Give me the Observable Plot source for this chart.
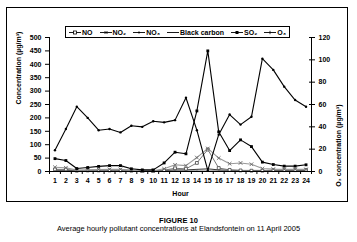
<!DOCTYPE html>
<html>
<head>
<meta charset="utf-8">
<script src="https://cdn.jsdelivr.net/npm/d3@7"></script>
<script src="https://cdn.jsdelivr.net/npm/@observablehq/plot@0.6"></script>
<style>
  body { margin: 0; background: #fff; font-family: 'Liberation Sans', Arial, sans-serif; }
  #wrap { position: relative; width: 357px; height: 242px; }
  #border { position: absolute; left: 6px; top: 7px; width: 342px; height: 195px; border: 1px solid #000; box-sizing: border-box; pointer-events: none; }
  #legend { position: absolute; left: 65px; top: 26px; width: 225px; height: 12px; border: 1px solid #000; box-sizing: border-box; background: #fff;
            display: flex; align-items: center; justify-content: space-between; padding: 0 3px; font-size: 7px; font-weight: bold; }
  #legend .item { display: flex; align-items: center; white-space: nowrap; }
  #legend svg { margin-right: 1px; }
  .cap { position: absolute; left: 0; width: 357px; text-align: center; font-size: 7.5px; line-height: 8px; }
</style>
</head>
<body>
<div id="wrap">
  <div id="chart"></div>
  <div id="border"></div>
  <div id="legend"></div>
  <div class="cap" style="top:217px;font-weight:bold">FIGURE 10</div>
  <div class="cap" style="top:225px">Average hourly pollutant concentrations at Elandsfontein on 11 April 2005</div>
</div>
<script>
const hours = [1,2,3,4,5,6,7,8,9,10,11,12,13,14,15,16,17,18,19,20,21,22,23,24];
const no   = [8,8,3,4,4,4,4,3,2,2,5,12,10,32,82,13,6,4,3,3,5,5,5,6];
const no2  = [16,14,5,6,7,8,8,5,2,3,10,25,22,52,86,50,29,32,27,11,9,8,8,8];
const no3  = [3,3,2,2,2,2,2,2,1,1,2,3,3,4,5,3,2,2,2,2,2,2,2,2];
const bc   = [5,5,3,4,5,5,5,4,3,3,4,6,6,8,10,6,5,4,4,4,4,4,4,4];
const so2  = [48,41,11,15,19,22,22,10,6,6,32,72,66,226,450,148,78,118,93,35,26,20,20,25];
const o3   = [19,38,58,48,37,38,35,41,40,45,44,46,66,37,1,33,51,42,49,101,91,76,64,58];
const leftTicks = [0,50,100,150,200,250,300,350,400,450,500];
const rightTicks = [0,20,40,60,80,100,120];
const bounds = [0.5,1.5,2.5,3.5,4.5,5.5,6.5,7.5,8.5,9.5,10.5,11.5,12.5,13.5,14.5,15.5,16.5,17.5,18.5,19.5,20.5,21.5,22.5,23.5,24.5];
const seriesNames = ["NO","NO₂","NO₃","Black carbon","SO₂","O₃"];

const k = 500 / 120;
const rows = hours.map((h, i) => ({hour: h, NO: no[i], NO2: no2[i], NO3: no3[i], BC: bc[i], SO2: so2[i], O3: o3[i] * k}));

const plot = Plot.plot({
  width: 357, height: 205,
  marginLeft: 49, marginRight: 46, marginTop: 37, marginBottom: 34,
  x: {domain: [0.5, 24.5]},
  y: {domain: [0, 500]},
  style: {fontFamily: "'Liberation Sans', Arial, sans-serif", fontSize: "7px", fontWeight: "bold", background: "transparent", color: "#000"},
  marks: [
    Plot.line(rows, {x: "hour", y: "NO3", stroke: "#aaa", strokeWidth: 1}),
    Plot.dot(rows, {x: "hour", y: "NO3", r: 0.9, fill: "#999", stroke: null}),
    Plot.line(rows, {x: "hour", y: "BC", stroke: "#222", strokeWidth: 0.9}),
    Plot.line(rows, {x: "hour", y: "NO", stroke: "#777", strokeWidth: 1}),
    Plot.dot(rows, {x: "hour", y: "NO", symbol: "square", r: 1.6, fill: "#fff", stroke: "#444", strokeWidth: 0.8}),
    Plot.line(rows, {x: "hour", y: "NO2", stroke: "#999", strokeWidth: 1.1}),
    Plot.dot(rows, {x: "hour", y: "NO2", symbol: "times", r: 1.8, stroke: "#666", strokeWidth: 0.9}),
    Plot.line(rows, {x: "hour", y: "SO2", stroke: "#000", strokeWidth: 1.1}),
    Plot.dot(rows, {x: "hour", y: "SO2", symbol: "square", r: 1.6, fill: "#000", stroke: null}),
    Plot.line(rows, {x: "hour", y: "O3", stroke: "#000", strokeWidth: 1.1}),
    Plot.dot(rows, {x: "hour", y: "O3", r: 1.2, fill: "#000", stroke: null}),
    Plot.ruleX([0.5, 24.5], {stroke: "#000", strokeWidth: 1}),
    Plot.ruleY([0], {stroke: "#000", strokeWidth: 1}),
    Plot.axisY(leftTicks, {anchor: "left", tickSize: 4, tickPadding: 4, label: null}),
    Plot.axisY(rightTicks.map(v => v * k), {anchor: "right", tickSize: 3, tickPadding: 4, label: null, tickFormat: d => Math.round(d / k)}),
    Plot.axisY(rightTicks.map(v => v * k), {anchor: "right", tickSize: -3, label: null, tickFormat: () => ""}),
    Plot.axisX(bounds, {anchor: "bottom", tickSize: 3, label: null, tickFormat: () => ""}),
    Plot.axisX(hours, {anchor: "bottom", tickSize: 0, tickPadding: 7, label: null}),
    Plot.text(["Concentration (µg/m³)"], {frameAnchor: "left", rotate: -90, dx: -31, text: d => d}),
    Plot.text(["O₃ concentration (µg/m³)"], {frameAnchor: "right", rotate: -90, dx: 27, text: d => d}),
    Plot.text(["Hour"], {frameAnchor: "bottom", dy: 24, text: d => d})
  ]
});
document.getElementById("chart").appendChild(plot);

// legend
const swatches = [
  {line: "#000", marker: "osquare"},
  {line: "#000", marker: "times"},
  {line: "#000", marker: "dot"},
  {line: "#000", marker: "none"},
  {line: "#000", marker: "square"},
  {line: "#000", marker: "plus"}
];
const legend = document.getElementById("legend");
seriesNames.forEach((name, i) => {
  const s = swatches[i];
  const item = document.createElement("span");
  item.className = "item";
  let m = "";
  if (s.marker === "osquare") m = '<rect x="4.5" y="2" width="3" height="3" fill="#fff" stroke="#000" stroke-width="0.8"/>';
  if (s.marker === "square") m = '<rect x="4.5" y="2" width="3" height="3" fill="#000"/>';
  if (s.marker === "times") m = '<path d="M4.5,2L7.5,5M7.5,2L4.5,5" stroke="#000" stroke-width="0.8"/>';
  if (s.marker === "dot") m = '<circle cx="6" cy="3.5" r="1" fill="#000"/>';
  if (s.marker === "plus") m = '<path d="M6,1.8V5.2" stroke="#000" stroke-width="0.8"/>';
  item.innerHTML = '<svg width="12" height="7"><line x1="0" y1="3.5" x2="12" y2="3.5" stroke="' + s.line + '" stroke-width="0.9"/>' + m + '</svg>' + name;
  legend.appendChild(item);
});
</script>
</body>
</html>
